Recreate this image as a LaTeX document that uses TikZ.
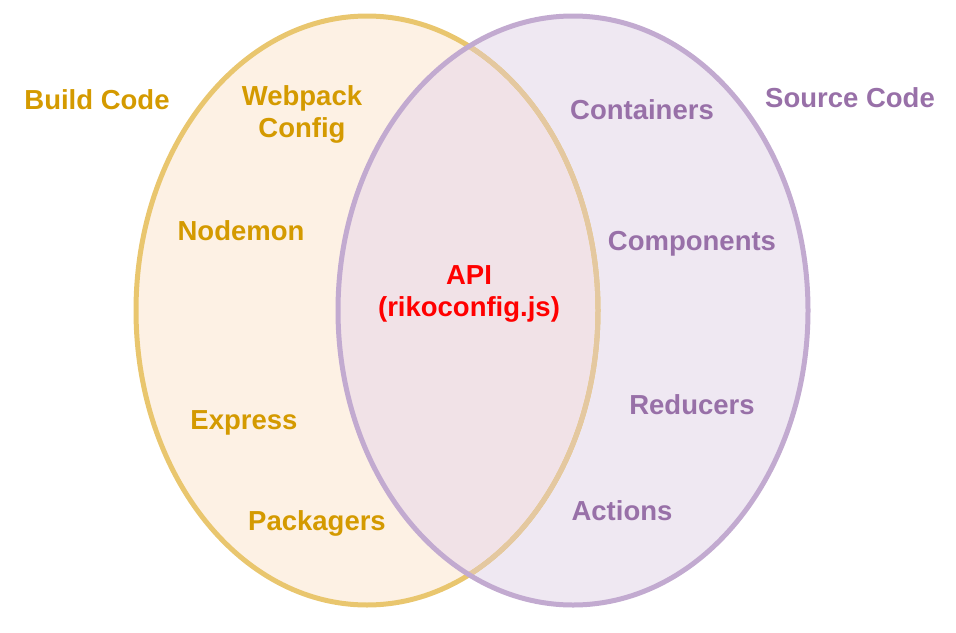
\documentclass[tikz,border=0pt]{standalone}
\usepackage{fontspec}
\setmainfont{Liberation Sans}
\usetikzlibrary{positioning}

\definecolor{buildfill}{RGB}{253,241,228}
\definecolor{buildline}{RGB}{233,198,110}
\definecolor{buildtext}{RGB}{212,154,0}
\definecolor{sourcefill}{RGB}{239,232,242}
\definecolor{sourceline}{RGB}{194,170,208}
\definecolor{sourcetext}{RGB}{152,112,168}
\definecolor{bothfill}{RGB}{241,226,231}
\definecolor{bothline}{RGB}{228,200,160}

\tikzset{
	lbl/.style={font=\bfseries\fontsize{27.5}{32}\selectfont, align=center, inner sep=0pt},
	buildtxt/.style={lbl, text=buildtext},
	sourcetxt/.style={lbl, text=sourcetext},
	apitxt/.style={lbl, text=red},
}

\begin{document}
\begin{tikzpicture}[x=1pt,y=-1pt]
				\useasboundingbox (0,0) rectangle (956,632);
				
				% Circles
				\fill[buildfill] (367,310.5) ellipse [x radius=231, y radius=294.5];
				\fill[sourcefill] (573,310.5) ellipse [x radius=235, y radius=294.5];
				\begin{scope}
					\clip (367,310.5) ellipse [x radius=231, y radius=294.5];
					\fill[bothfill] (573,310.5) ellipse [x radius=235, y radius=294.5];
				\end{scope}
				\draw[buildline, line width=5] (367,310.5) ellipse [x radius=231, y radius=294.5];
				\begin{scope}
					\clip (573,310.5) ellipse [x radius=235, y radius=294.5];
					\draw[bothline, line width=5] (367,310.5) ellipse [x radius=231, y radius=294.5];
				\end{scope}
				\draw[sourceline, line width=5] (573,310.5) ellipse [x radius=235, y radius=294.5];
				
				% Build side
				\node[buildtxt] (build) at (97,100) {Build Code};
				\node[buildtxt] (webpack) at (302,114) {Webpack\\Config};
				\node[buildtxt] (nodemon) at (241,231) {Nodemon};
				\node[buildtxt] (express) at (244,423) {Express};
				\node[buildtxt] (packagers) at (317,523) {Packagers};
				
				% Shared
				\node[apitxt] (api) at (469,294) {API\\(rikoconfig.js)};
				
				% Source side
				\node[sourcetxt] (source) at (850,98) {Source Code};
				\node[sourcetxt] (containers) at (642,110) {Containers};
				\node[sourcetxt] (components) at (692,244) {Components};
				\node[sourcetxt] (reducers) at (692,405) {Reducers};
				\node[sourcetxt] (actions) at (622,511) {Actions};
				
			\end{tikzpicture}
\end{document}
